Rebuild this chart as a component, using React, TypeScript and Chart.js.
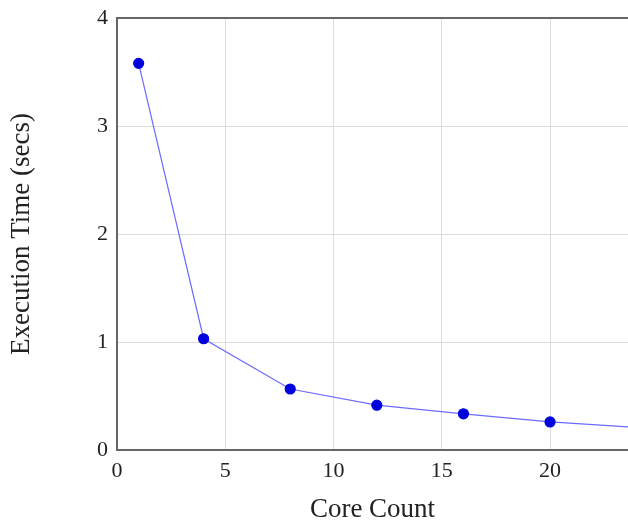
import React, { useEffect, useRef } from "react";
import { Chart, registerables } from "chart.js";

Chart.register(...registerables);

const coreCounts = [1, 4, 8, 12, 16, 20, 24];
const execTimes = [3.58, 1.03, 0.565, 0.415, 0.335, 0.26, 0.21];
const xTitle = "Core Count";
const yTitle = "Execution Time (secs)";

const FONT = "'Liberation Serif', 'DejaVu Serif', serif";

const framePlugin = {
  id: "frameTop",
  afterDraw(chart: any) {
    const { ctx, chartArea } = chart;
    ctx.save();
    ctx.strokeStyle = "#666";
    ctx.lineWidth = 2;
    ctx.beginPath();
    ctx.moveTo(chartArea.left - 1, chartArea.top);
    ctx.lineTo(chartArea.right, chartArea.top);
    ctx.stroke();
    ctx.restore();
  },
};

export default function App() {
  const ref = useRef<HTMLCanvasElement>(null);
  useEffect(() => {
    if (!ref.current) return;
    const chart = new Chart(ref.current, {
      type: "scatter",
      data: {
        datasets: [
          {
            data: coreCounts.map((x, i) => ({ x, y: execTimes[i] })),
            showLine: true,
            borderColor: "#6b6bff",
            borderWidth: 1.2,
            backgroundColor: "#0000dd",
            pointBackgroundColor: "#0000dd",
            pointBorderColor: "#0000dd",
            pointRadius: 5,
          },
        ],
      },
      plugins: [framePlugin],
      options: {
        animation: false,
        responsive: false,
        maintainAspectRatio: false,
        layout: { autoPadding: false, padding: { top: 18, right: 0, left: 0, bottom: 0 } },
        plugins: { legend: { display: false }, tooltip: { enabled: false } },
        scales: {
          x: {
            type: "linear",
            min: 0,
            max: 23.6,
            afterBuildTicks: (s: any) => {
              s.ticks = s.ticks.filter((t: any) => t.value % 5 === 0);
            },
            afterFit: (s: any) => {
              s.height = 70;
              s.paddingLeft = 0;
              s.paddingRight = 0;
            },
            ticks: { stepSize: 5, color: "#222", font: { family: FONT, size: 22 }, padding: 8, maxRotation: 0 },
            grid: { color: "#dcdcdc", lineWidth: 1, drawTicks: false },
            border: { color: "#666", width: 2 },
            title: { display: true, text: xTitle, color: "#222", font: { family: FONT, size: 27 }, padding: { top: 0, bottom: -6 } },
          },
          y: {
            type: "linear",
            min: 0,
            max: 4,
            afterFit: (s: any) => {
              s.width = 117;
              s.paddingTop = 0;
              s.paddingBottom = 0;
            },
            ticks: { stepSize: 1, color: "#222", font: { family: FONT, size: 22 }, padding: 9 },
            grid: { color: "#dcdcdc", lineWidth: 1, drawTicks: false },
            border: { color: "#666", width: 2 },
            title: { display: true, text: yTitle, color: "#222", font: { family: FONT, size: 27 }, padding: { top: 6, bottom: 0 } },
          },
        },
      },
    });
    return () => chart.destroy();
  }, []);
  return (
    <div style={{ position: "fixed", left: 0, top: 0, width: 628, height: 520, background: "#fff" }}>
      <canvas ref={ref} width={628} height={520} style={{ width: 628, height: 520, display: "block" }} />
    </div>
  );
}
